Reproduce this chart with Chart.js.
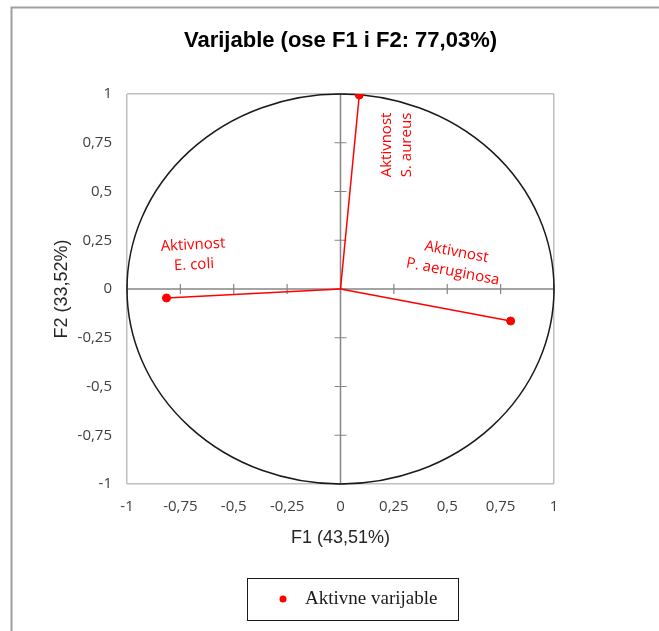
<!DOCTYPE html>
<html>
<head>
<meta charset="utf-8">
<script src="https://cdn.jsdelivr.net/npm/chart.js@4"></script>
<style>
  html, body { margin: 0; padding: 0; background: #ffffff; }
  #wrap { width: 659px; height: 631px; position: relative; }
</style>
</head>
<body>
<div id="wrap"><canvas id="c" width="659" height="631"></canvas></div>
<script>
// Correlation circle: variable loadings on F1 and F2
const variableNames = ['Aktivnost S. aureus', 'Aktivnost E. coli', 'Aktivnost P. aeruginosa'];
const labelLines = [['Aktivnost', 'S. aureus'], ['Aktivnost', 'E. coli'], ['Aktivnost', 'P. aeruginosa']];
const f1Values = [0.088, -0.815, 0.797];
const f2Values = [0.995, -0.046, -0.164];
const xTickLabels = ['-1', '-0,75', '-0,5', '-0,25', '0', '0,25', '0,5', '0,75', '1'];
const yTickLabels = ['-1', '-0,75', '-0,5', '-0,25', '0', '0,25', '0,5', '0,75', '1'];
const titleText = 'Varijable (ose F1 i F2: 77,03%)';
const xTitle = 'F1 (43,51%)';
const yTitle = 'F2 (33,52%)';
const legendText = 'Aktivne varijable';

// label placement relative to each point (pixels) and rotation (degrees)
const labelPlacement = [
  { dx: 37, dy: 50, rot: -90 },
  { dx: 27, dy: -43, rot: -3 },
  { dx: -56, dy: -59, rot: 10.7 }
];

const RED = '#ff0000';
const tickFont = { family: "'Open Sans'", size: 15 };

const points = f1Values.map((x, i) => ({ x: x, y: f2Values[i] }));
const vectorSets = points.map((p, i) => ({
  type: 'line',
  label: variableNames[i],
  data: [{ x: 0, y: 0 }, p],
  borderColor: RED,
  borderWidth: 1.5,
  pointRadius: 0,
  showLine: true,
  fill: false,
  order: 2
}));

const decorPlugin = {
  id: 'decor',
  beforeDatasetsDraw(chart) {
    const ctx = chart.ctx;
    const xs = chart.scales.x, ys = chart.scales.y;
    const x0 = xs.getPixelForValue(0), y0 = ys.getPixelForValue(0);
    ctx.save();
    // zero axes with small cross ticks
    ctx.strokeStyle = '#868686';
    ctx.lineWidth = 1.5;
    ctx.beginPath();
    ctx.moveTo(x0, ys.top); ctx.lineTo(x0, ys.bottom);
    ctx.moveTo(xs.left, y0); ctx.lineTo(xs.right, y0);
    ctx.stroke();
    ctx.lineWidth = 1.2;
    ctx.beginPath();
    xs.ticks.forEach(t => {
      const px = xs.getPixelForValue(t.value);
      ctx.moveTo(px, y0 - 5); ctx.lineTo(px, y0 + 5);
    });
    ys.ticks.forEach(t => {
      const py = ys.getPixelForValue(t.value);
      ctx.moveTo(x0 - 6, py); ctx.lineTo(x0 + 6, py);
    });
    ctx.stroke();
    // unit circle
    const rx = xs.getPixelForValue(1) - x0;
    const ry = y0 - ys.getPixelForValue(1);
    ctx.strokeStyle = '#1a1a1a';
    ctx.lineWidth = 1.5;
    ctx.beginPath();
    ctx.ellipse(x0, y0, rx, ry, 0, 0, Math.PI * 2);
    ctx.stroke();
    ctx.restore();
  },
  afterDraw(chart) {
    const ctx = chart.ctx;
    const xs = chart.scales.x, ys = chart.scales.y;
    const area = chart.chartArea;
    const cx = (area.left + area.right) / 2;
    ctx.save();
    // outer frame
    ctx.strokeStyle = '#a0a0a0';
    ctx.lineWidth = 2;
    ctx.beginPath();
    ctx.moveTo(11.5, 631); ctx.lineTo(11.5, 7.5); ctx.lineTo(659, 7.5);
    ctx.stroke();

    // title
    ctx.fillStyle = '#000000';
    ctx.font = "bold 22px 'Liberation Sans', Arial, sans-serif";
    ctx.textAlign = 'center';
    ctx.textBaseline = 'middle';
    ctx.fillText(titleText, cx, 41);

    // axis titles
    ctx.fillStyle = '#262626';
    ctx.font = "18px 'Liberation Sans', Arial, sans-serif";
    ctx.fillText(xTitle, cx, 538);
    ctx.save();
    ctx.translate(62, (area.top + area.bottom) / 2);
    ctx.rotate(-Math.PI / 2);
    ctx.fillText(yTitle, 0, 0);
    ctx.restore();

    // variable labels
    ctx.fillStyle = RED;
    ctx.font = "15px 'Open Sans', sans-serif";
    points.forEach((p, i) => {
      const px = xs.getPixelForValue(p.x), py = ys.getPixelForValue(p.y);
      const pl = labelPlacement[i];
      ctx.save();
      ctx.translate(px + pl.dx, py + pl.dy);
      ctx.rotate(pl.rot * Math.PI / 180);
      const lines = labelLines[i];
      const lh = 20;
      lines.forEach((ln, k) => {
        ctx.fillText(ln, 0, (k - (lines.length - 1) / 2) * lh);
      });
      ctx.restore();
    });

    // legend box
    const ds = chart.data.datasets[0];
    ctx.strokeStyle = '#1a1a1a';
    ctx.lineWidth = 1;
    ctx.strokeRect(247.5, 578.5, 211, 42);
    ctx.fillStyle = ds.backgroundColor;
    ctx.beginPath();
    ctx.arc(283, 599, 3.5, 0, Math.PI * 2);
    ctx.fill();
    ctx.fillStyle = '#1a1a1a';
    ctx.font = "19px 'Liberation Serif', 'Times New Roman', serif";
    ctx.textAlign = 'left';
    ctx.fillText(ds.label, 305, 599);
    ctx.restore();
  }
};

function gridColor(ctx) {
  const v = ctx.tick ? ctx.tick.value : null;
  if (v === -1 || v === 1) return '#bfbfbf';
  return 'rgba(0,0,0,0)';
}

new Chart(document.getElementById('c'), {
  type: 'scatter',
  data: {
    datasets: [
      {
        label: legendText,
        data: points,
        backgroundColor: RED,
        borderColor: RED,
        pointRadius: 4,
        pointHoverRadius: 4,
        order: 1
      },
      ...vectorSets
    ]
  },
  options: {
    responsive: false,
    animation: false,
    events: [],
    layout: { padding: { left: 0, top: 94, right: 105, bottom: 107 } },
    plugins: {
      legend: { display: false },
      title: { display: false },
      tooltip: { enabled: false }
    },
    scales: {
      x: {
        type: 'linear',
        min: -1, max: 1,
        afterFit(scale) { scale.height = 40; },
        border: { display: false },
        grid: { color: gridColor, lineWidth: 1.5, drawTicks: false },
        ticks: {
          stepSize: 0.25,
          padding: 14,
          color: '#404040',
          font: tickFont,
          maxRotation: 0,
          autoSkip: false,
          callback: (v, i) => xTickLabels[i]
        }
      },
      y: {
        type: 'linear',
        min: -1, max: 1,
        afterFit(scale) { scale.width = 127; },
        border: { display: false },
        grid: { color: gridColor, lineWidth: 1.5, drawTicks: false },
        ticks: {
          stepSize: 0.25,
          padding: 15,
          color: '#404040',
          font: tickFont,
          autoSkip: false,
          callback: (v, i) => yTickLabels[i]
        }
      }
    }
  },
  plugins: [decorPlugin]
});
</script>
</body>
</html>
